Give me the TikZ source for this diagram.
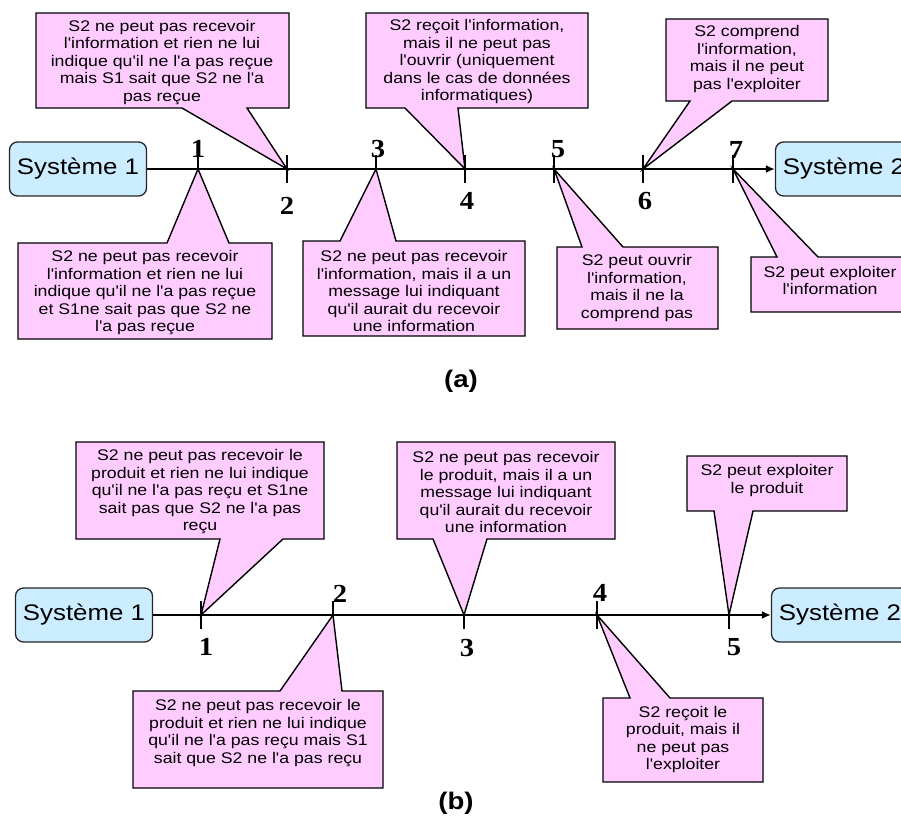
\documentclass[tikz,border=0pt]{standalone}
\usepackage{fontspec}
\newfontfamily\arialx{Liberation Sans}[FakeStretch=1.15]
\newfontfamily\numfont{Liberation Serif}[FakeStretch=1.1]
\usetikzlibrary{arrows.meta}
\definecolor{pinkfill}{RGB}{255,204,255}
\definecolor{bluefill}{RGB}{204,236,255}
\begin{document}
\begin{tikzpicture}[x=1pt,y=-1pt,
  sysbox/.style={draw=black!85, line width=1.3pt, fill=bluefill, rounded corners=8pt,
    minimum width=137pt, minimum height=54pt, inner sep=0pt,
    font=\arialx\fontsize{22.5}{26}\selectfont},
  axisline/.style={line width=2.8pt, -{Latex[length=9pt,width=8pt]}},
  tickmark/.style={line width=1.8pt},
  callout/.style={draw=black, line width=1.4pt, fill=pinkfill, line join=miter},
  ctext/.style={align=center, inner sep=0pt, font=\arialx\fontsize{15.4}{17.5}\selectfont},
  num/.style={inner sep=0pt, font=\numfont\bfseries\fontsize{26}{26}\selectfont},
  captext/.style={inner sep=0pt, font=\arialx\bfseries\fontsize{24}{24}\selectfont}]
\useasboundingbox (0,0) rectangle (901,822);
\clip (0,0) rectangle (901,822);

% ================= (a) =================
\node[sysbox] (s1a) at (78,169) {Système 1};
\node[sysbox] (s2a) at (844,169) {Système 2};
\draw[axisline] (s1a.east) -- (s2a.west);

\coordinate (a1) at (198,169);
\coordinate (a2) at (287,169);
\coordinate (a3) at (376,169);
\coordinate (a4) at (465,169);
\coordinate (a5) at (554,169);
\coordinate (a6) at (643,169);
\coordinate (a7) at (733,169);
\foreach \p in {a1,a2,a3,a4,a5,a6,a7}
  \draw[tickmark] (\p) ++(0,-14) -- ++(0,28);

\node[num] (na1) at (198,149) {1};
\node[num] (na2) at (287,206) {2};
\node[num] (na3) at (378,149) {3};
\node[num] (na4) at (467,201) {4};
\node[num] (na5) at (558,149) {5};
\node[num] (na6) at (645,201) {6};
\node[num] (na7) at (736,150) {7};

% callouts above
\draw[callout] (36,13) -- (289,13) -- (289,108) -- (247,108) -- (a2) -- (182,108) -- (36,108) -- cycle;
\node[ctext] (ta2) at (162,62.5) {S2 ne peut pas recevoir\\l'information et rien ne lui\\indique qu'il ne l'a pas reçue\\mais S1 sait que S2 ne l'a\\pas reçue};

\draw[callout] (366,13) -- (588,13) -- (588,108) -- (458,108) -- (a4) -- (405,108) -- (366,108) -- cycle;
\node[ctext] (ta4) at (477,62) {S2 reçoit l'information,\\mais il ne peut pas\\l'ouvrir (uniquement\\dans le cas de données\\informatiques)};

\draw[callout] (666,19) -- (828,19) -- (828,101) -- (732,101) -- (a6) -- (690,101) -- (666,101) -- cycle;
\node[ctext] (ta6) at (747,59) {S2 comprend\\l'information,\\mais il ne peut\\pas l'exploiter};

% callouts below
\draw[callout] (18,243) -- (167,243) -- (a1) -- (229,243) -- (272,243) -- (272,339) -- (18,339) -- cycle;
\node[ctext] (ta1) at (145,293) {S2 ne peut pas recevoir\\l'information et rien ne lui\\indique qu'il ne l'a pas reçue\\et S1ne sait pas que S2 ne\\l'a pas reçue};

\draw[callout] (303,241) -- (340,241) -- (a3) -- (396,241) -- (525,241) -- (525,336) -- (303,336) -- cycle;
\node[ctext] (ta3) at (414,291) {S2 ne peut pas recevoir\\l'information, mais il a un\\message lui indiquant\\qu'il aurait du recevoir\\une information};

\draw[callout] (557,247) -- (582,247) -- (a5) -- (623,247) -- (718,247) -- (718,329) -- (557,329) -- cycle;
\node[ctext] (ta5) at (637,288) {S2 peut ouvrir\\l'information,\\mais il ne la\\comprend pas};

\draw[callout] (751,257) -- (777,257) -- (a7) -- (818,257) -- (910,257) -- (910,312) -- (751,312) -- cycle;
\node[ctext] (ta7) at (830,280.5) {S2 peut exploiter\\l'information};

\node[captext] (capa) at (461,381) {(a)};

% ================= (b) =================
\node[sysbox] (s1b) at (84,615) {Système 1};
\node[sysbox] (s2b) at (840,615) {Système 2};
\draw[axisline] (s1b.east) -- (s2b.west);

\coordinate (b1) at (201,615);
\coordinate (b2) at (333,615);
\coordinate (b3) at (464,615);
\coordinate (b4) at (597,615);
\coordinate (b5) at (729,615);
\foreach \p in {b1,b2,b3,b4,b5}
  \draw[tickmark] (\p) ++(0,-14) -- ++(0,28);

\node[num] (nb1) at (206,647) {1};
\node[num] (nb2) at (340,594) {2};
\node[num] (nb3) at (467,648) {3};
\node[num] (nb4) at (600,593) {4};
\node[num] (nb5) at (734,647) {5};

% callouts above
\draw[callout] (76,442) -- (324,442) -- (324,539) -- (283,539) -- (b1) -- (220,539) -- (76,539) -- cycle;
\node[ctext] (tb1) at (200,492) {S2 ne peut pas recevoir le\\produit et rien ne lui indique\\qu'il ne l'a pas reçu et S1ne\\sait pas que S2 ne l'a pas\\reçu};

\draw[callout] (397,442) -- (615,442) -- (615,539) -- (487,539) -- (b3) -- (433,539) -- (397,539) -- cycle;
\node[ctext] (tb3) at (506,492) {S2 ne peut pas recevoir\\le produit, mais il a un\\message lui indiquant\\qu'il aurait du recevoir\\une information};

\draw[callout] (687,456) -- (847,456) -- (847,511) -- (753,511) -- (b5) -- (714,511) -- (687,511) -- cycle;
\node[ctext] (tb5) at (767,480.5) {S2 peut exploiter\\le produit};

% callouts below
\draw[callout] (133,691) -- (280,691) -- (b2) -- (342,691) -- (383,691) -- (383,788) -- (133,788) -- cycle;
\node[ctext] (tb2) at (258,733) {S2 ne peut pas recevoir le\\produit et rien ne lui indique\\qu'il ne l'a pas reçu mais S1\\sait que S2 ne l'a pas reçu};

\draw[callout] (603,698) -- (630,698) -- (b4) -- (670,698) -- (763,698) -- (763,782) -- (603,782) -- cycle;
\node[ctext] (tb4) at (683,739.5) {S2 reçoit le\\produit, mais il\\ne peut pas\\l'exploiter};

\node[captext] (capb) at (456,803) {(b)};
\end{tikzpicture}
\end{document}
